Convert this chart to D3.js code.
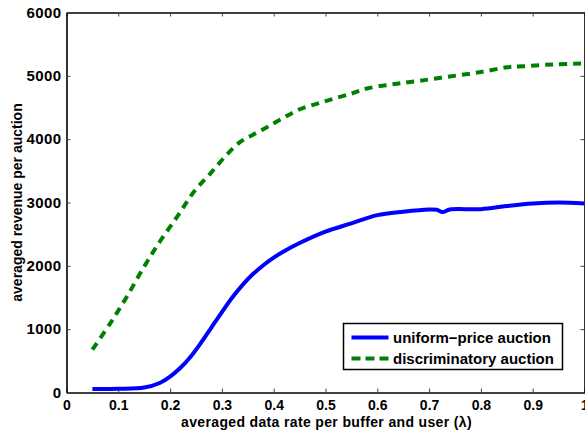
<!DOCTYPE html>
<html>
<head>
<meta charset="utf-8">
<script src="https://cdn.jsdelivr.net/npm/d3@7"></script>
<style>
  body { margin: 0; background: #fff; }
  text { font-family: "Liberation Sans", Arial, Helvetica, sans-serif; font-weight: bold; }
</style>
</head>
<body>
<svg id="chart" width="585" height="434"></svg>
<script>
// data
const uniformX = [0.05, 0.10, 0.15, 0.18, 0.20, 0.22, 0.24, 0.26, 0.28, 0.30, 0.32, 0.34, 0.36, 0.38, 0.40, 0.42, 0.45, 0.50, 0.55, 0.60, 0.65, 0.70, 0.715, 0.726, 0.74, 0.80, 0.85, 0.90, 0.95, 1.00];
const uniformY = [55, 58, 78, 150, 250, 390, 570, 790, 1030, 1270, 1500, 1700, 1870, 2010, 2130, 2230, 2360, 2540, 2670, 2800, 2855, 2890, 2885, 2850, 2890, 2895, 2945, 2985, 3000, 2985];

const discrX = [0.05, 0.085, 0.117, 0.15, 0.18, 0.214, 0.246, 0.278, 0.31, 0.336, 0.36, 0.387, 0.413, 0.45, 0.50, 0.55, 0.58, 0.63, 0.68, 0.74, 0.80, 0.85, 0.88, 0.94, 1.00];
const discrY = [677, 1100, 1520, 1990, 2380, 2780, 3170, 3460, 3760, 3960, 4070, 4190, 4310, 4470, 4600, 4720, 4800, 4866, 4920, 4990, 5060, 5135, 5150, 5180, 5195];

const xTicks = [0, 0.1, 0.2, 0.3, 0.4, 0.5, 0.6, 0.7, 0.8, 0.9, 1];
const yTicks = [0, 1000, 2000, 3000, 4000, 5000, 6000];

const seriesNames = ["uniform\u2212price auction", "discriminatory auction"];

const mLeft = 66.5, mRight = 584.5, mTop = 12.5, mBottom = 392.5;

const svg = d3.select("#chart");

const x = d3.scaleLinear().domain([0, 1]).range([mLeft, mRight]);
const y = d3.scaleLinear().domain([0, 6000]).range([mBottom, mTop]);

const fmtX = d => d === 0 ? "0" : d === 1 ? "1" : d3.format(".1f")(d);

// axes: bottom/left with labels, top/right mirrored ticks only (inward)
const gx = svg.append("g").attr("transform", `translate(0,${mBottom})`)
  .call(d3.axisBottom(x).tickValues(xTicks).tickFormat(fmtX).tickSizeInner(-4).tickSizeOuter(0).tickPadding(8));
const gxt = svg.append("g").attr("transform", `translate(0,${mTop})`)
  .call(d3.axisTop(x).tickValues(xTicks).tickFormat("").tickSizeInner(-4).tickSizeOuter(0));
const gy = svg.append("g").attr("transform", `translate(${mLeft},0)`)
  .call(d3.axisLeft(y).tickValues(yTicks).tickFormat(d3.format("d")).tickSizeInner(-4).tickSizeOuter(0).tickPadding(5));
const gyr = svg.append("g").attr("transform", `translate(${mRight},0)`)
  .call(d3.axisRight(y).tickValues(yTicks).tickFormat("").tickSizeInner(-4).tickSizeOuter(0));

[gx, gxt, gy, gyr].forEach(g => {
  g.select(".domain").attr("stroke", "#000").attr("stroke-width", 1.6);
  g.selectAll(".tick line").attr("stroke", "#444").attr("stroke-width", 1);
  g.selectAll(".tick text").attr("fill", "#000").style("font-size", "14px").attr("font-family", null);
});
gy.selectAll(".tick text").style("font-size", "15px").style("letter-spacing", "0.4px");

// curves
const line = d3.line().x(d => x(d[0])).y(d => y(d[1])).curve(d3.curveCatmullRom.alpha(0.5));

svg.append("path")
  .datum(discrX.map((v, i) => [v, discrY[i]]))
  .attr("d", line)
  .attr("fill", "none")
  .attr("stroke", "#008000")
  .attr("stroke-width", 4)
  .attr("stroke-dasharray", "8,6");

svg.append("path")
  .datum(uniformX.map((v, i) => [v, uniformY[i]]))
  .attr("d", line)
  .attr("fill", "none")
  .attr("stroke", "#0000ff")
  .attr("stroke-width", 4);

// axis titles
svg.append("text")
  .attr("x", (mLeft + mRight) / 2 + 1)
  .attr("y", 427)
  .attr("text-anchor", "middle")
  .style("font-size", "14px")
  .style("letter-spacing", "0.35px")
  .text("averaged data rate per buffer and user (\u03bb)");

svg.append("text")
  .attr("transform", `translate(21.5,${(mTop + mBottom) / 2}) rotate(-90)`)
  .attr("text-anchor", "middle")
  .style("font-size", "14px")
  .text("averaged revenue per auction");

// legend
const lg = svg.append("g");
lg.append("rect")
  .attr("x", 343.5).attr("y", 323.5).attr("width", 219).attr("height", 46)
  .attr("fill", "#fff").attr("stroke", "#000").attr("stroke-width", 1.5);

const legendRows = [
  { name: seriesNames[0], color: "#0000ff", dash: null, yy: 337.5 },
  { name: seriesNames[1], color: "#008000", dash: "9,5", yy: 358.5 }
];
legendRows.forEach(r => {
  lg.append("line")
    .attr("x1", 351.5).attr("x2", 388.5).attr("y1", r.yy).attr("y2", r.yy)
    .attr("stroke", r.color).attr("stroke-width", 4)
    .attr("stroke-dasharray", r.dash);
  lg.append("text")
    .attr("x", 393).attr("y", r.yy + 5.5)
    .style("font-size", "15px")
    .text(r.name);
});
</script>
</body>
</html>
